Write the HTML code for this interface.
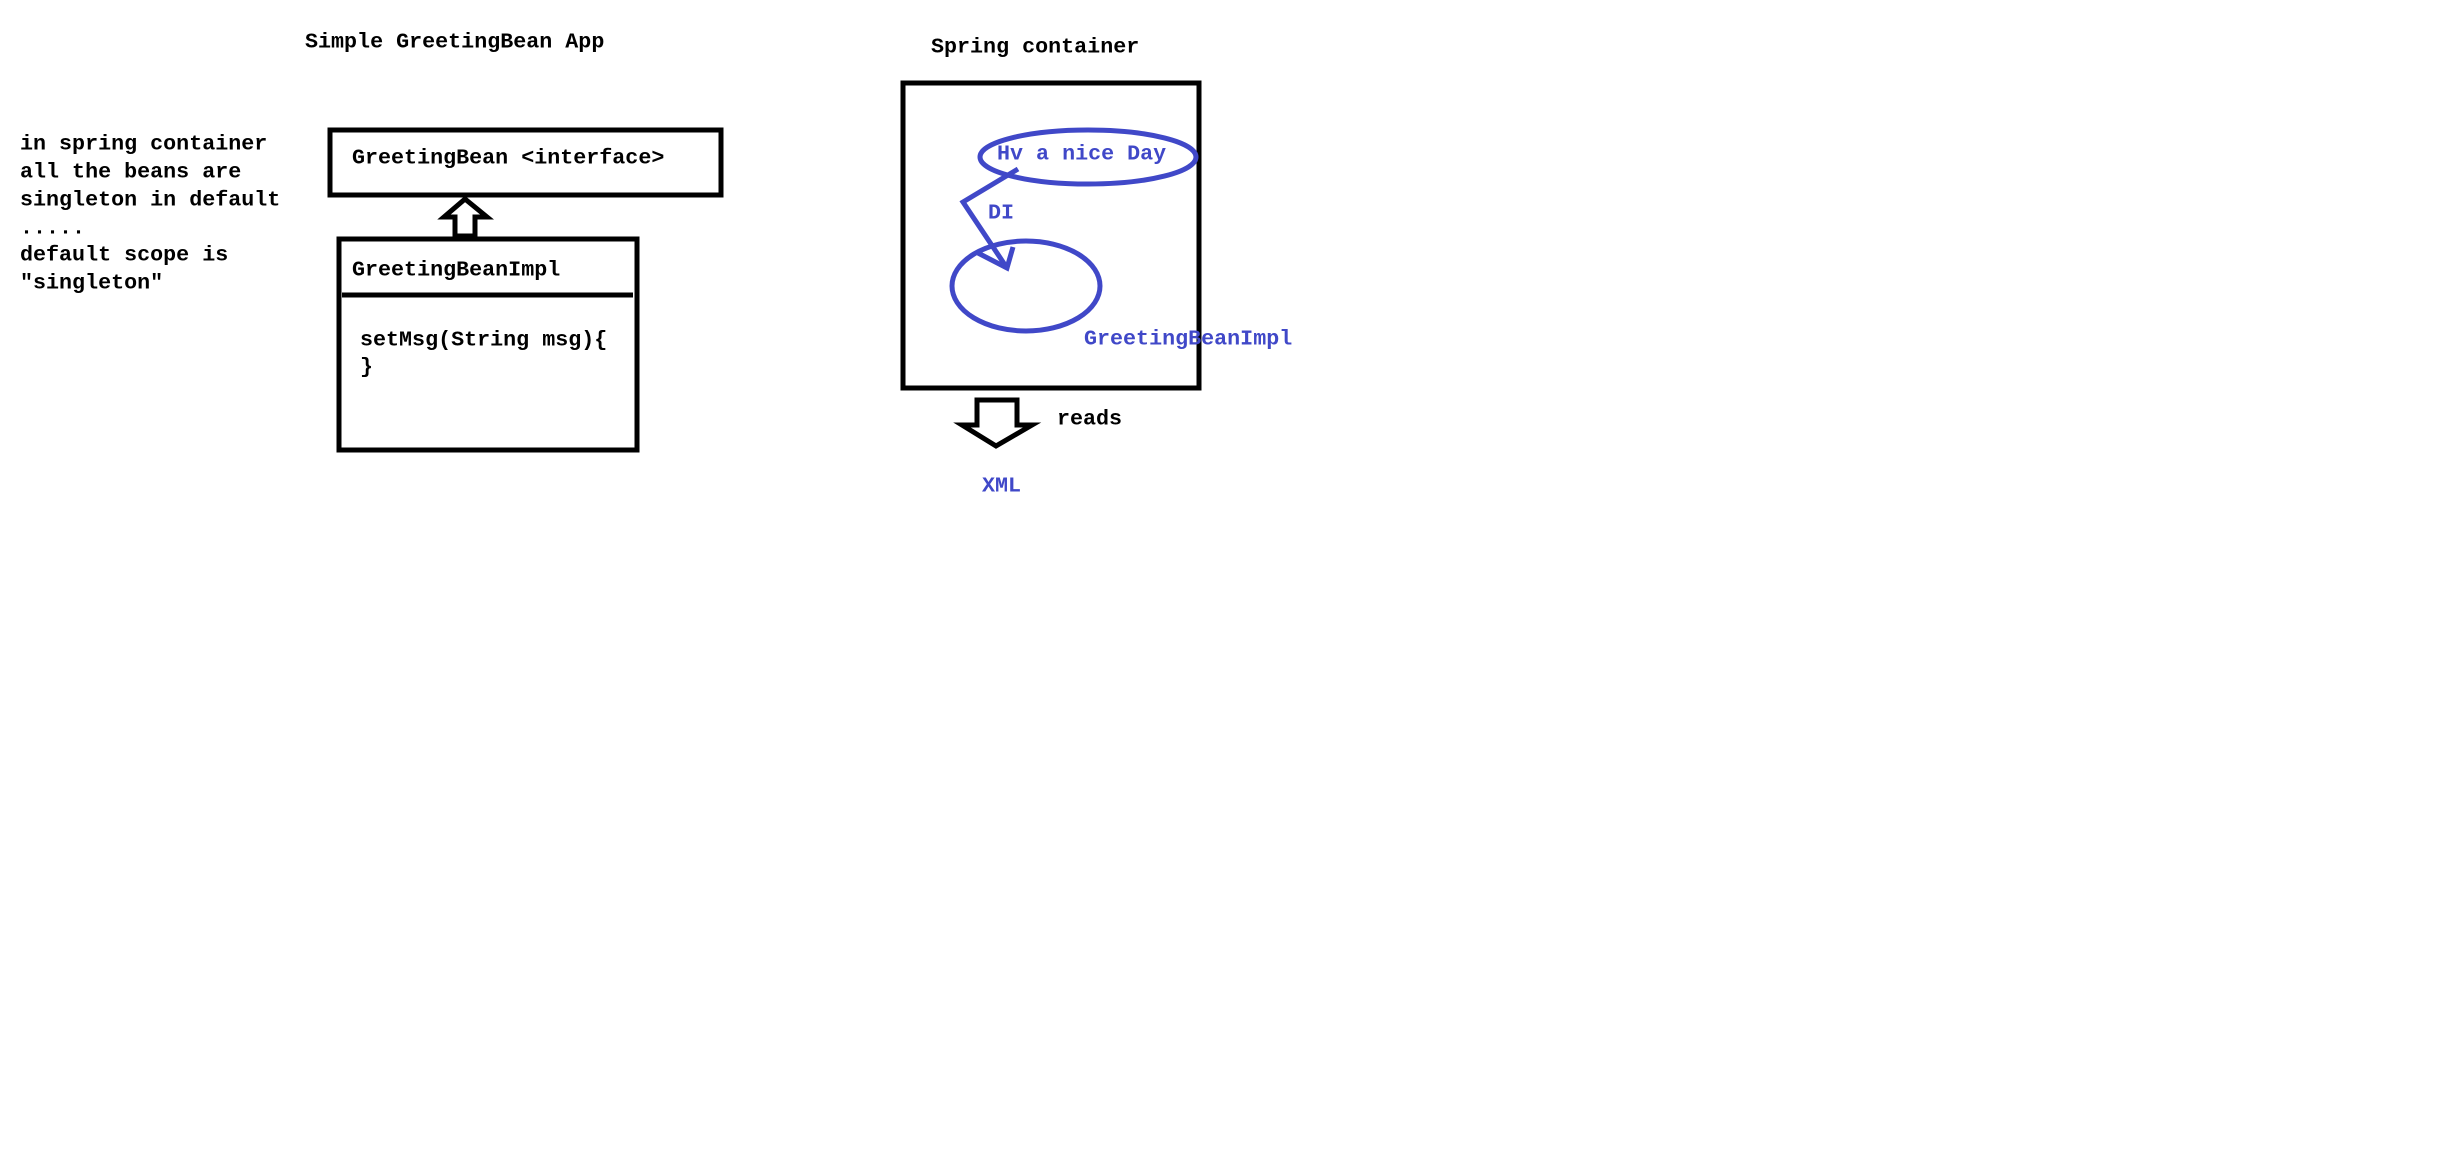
<!DOCTYPE html>
<html><head><meta charset="utf-8"><style>
html,body{margin:0;padding:0;background:#fff;}
svg{display:block;}
text{font-family:"Liberation Mono",monospace;font-weight:bold;font-size:21.7px;dominant-baseline:central;}
.b{fill:#000}.u{fill:#4048c8}
</style></head><body>
<svg width="2440" height="1176" viewBox="0 0 2440 1176" xmlns="http://www.w3.org/2000/svg">
<rect width="2440" height="1176" fill="#fff"/>
<text class="b" x="305" y="42">Simple GreetingBean App</text>
<text class="b" x="20" y="144">in spring container</text>
<text class="b" x="20" y="172">all the beans are</text>
<text class="b" x="20" y="200">singleton in default</text>
<text class="b" x="20" y="228">.....</text>
<text class="b" x="20" y="255">default scope is</text>
<text class="b" x="20" y="283">"singleton"</text>

<rect x="330" y="130" width="391" height="65" fill="none" stroke="#000" stroke-width="5"/>
<text class="b" x="352" y="158">GreetingBean &lt;interface&gt;</text>
<polygon points="455,236 455,217 444,217 465,199 487,217 475,217 475,236" fill="#fff" stroke="#000" stroke-width="5" stroke-linejoin="miter"/>
<rect x="339" y="239" width="298" height="211" fill="none" stroke="#000" stroke-width="5"/>
<line x1="342" y1="295" x2="633" y2="295" stroke="#000" stroke-width="5"/>
<text class="b" x="352" y="270">GreetingBeanImpl</text>
<text class="b" x="360" y="340">setMsg(String msg){</text>
<text class="b" x="360" y="367">}</text>

<text class="b" x="931" y="47">Spring container</text>
<rect x="903" y="83" width="296" height="305" fill="none" stroke="#000" stroke-width="5"/>
<ellipse cx="1088" cy="157" rx="108" ry="27" fill="none" stroke="#4048c8" stroke-width="5"/>
<text class="u" x="997" y="154">Hv a nice Day</text>
<polyline points="1018,169 963,202 1007,268" fill="none" stroke="#4048c8" stroke-width="5" stroke-linejoin="miter"/>
<polyline points="978,253 1007,268 1013,247" fill="none" stroke="#4048c8" stroke-width="5"/>
<text class="u" x="988" y="213">DI</text>
<ellipse cx="1026" cy="286" rx="74" ry="45" fill="none" stroke="#4048c8" stroke-width="5"/>
<text class="u" x="1084" y="339">GreetingBeanImpl</text>

<polygon points="977,400 1017,400 1017,425 1032,425 996,446 962,425 977,425" fill="#fff" stroke="#000" stroke-width="5"/>
<text class="b" x="1057" y="419">reads</text>
<text class="u" x="982" y="486">XML</text>
</svg>
</body></html>
